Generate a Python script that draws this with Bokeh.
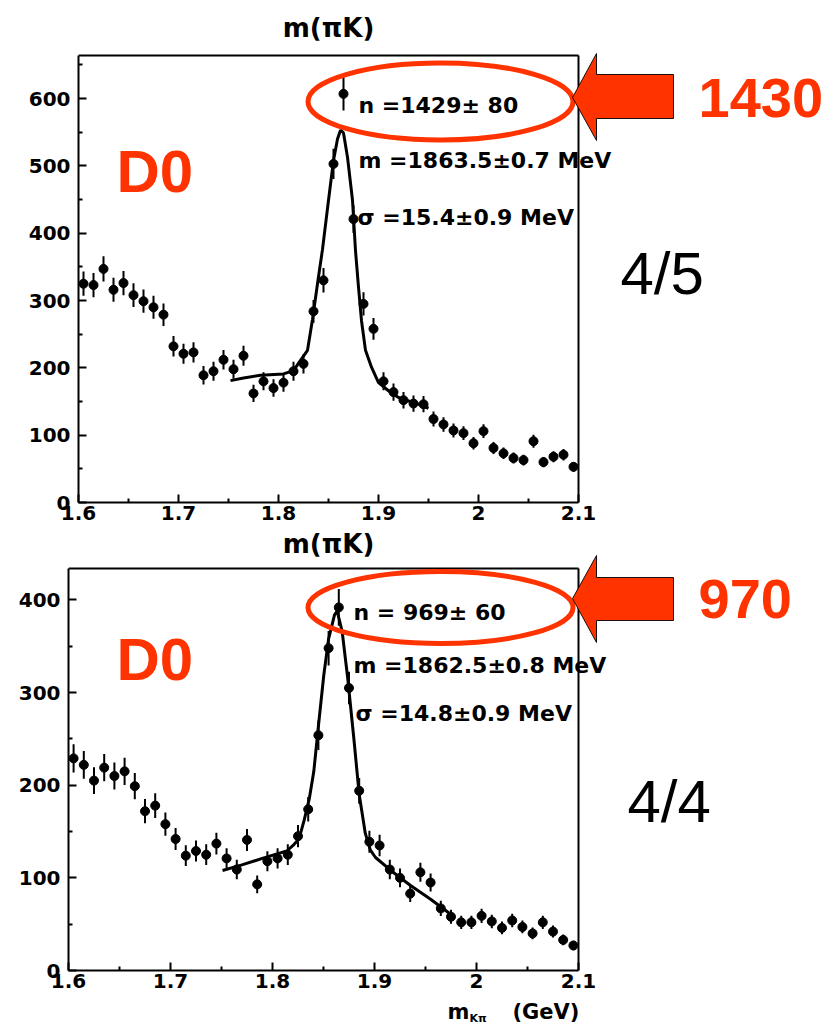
import numpy as np
from bokeh.plotting import figure
from bokeh.layouts import column, row
from bokeh.models import Label, PolyAnnotation, FixedTicker, CustomJSTickFormatter
from bokeh.embed import file_html
from bokeh.resources import INLINE

# ---------------- data ----------------
bin_centers = [1.605, 1.615, 1.625, 1.635, 1.645, 1.655, 1.665, 1.675, 1.685, 1.695,
               1.705, 1.715, 1.725, 1.735, 1.745, 1.755, 1.765, 1.775, 1.785, 1.795,
               1.805, 1.815, 1.825, 1.835, 1.845, 1.855, 1.865, 1.875, 1.885, 1.895,
               1.905, 1.915, 1.925, 1.935, 1.945, 1.955, 1.965, 1.975, 1.985, 1.995,
               2.005, 2.015, 2.025, 2.035, 2.045, 2.055, 2.065, 2.075, 2.085, 2.095]

top_counts = [325, 323, 347, 316, 326, 308, 299, 290, 279, 232,
              221, 223, 189, 195, 212, 198, 218, 162, 180, 170,
              178, 195, 206, 284, 330, 503, 607, 421, 295, 258,
              180, 164, 152, 147, 146, 124, 116, 107, 103, 88,
              106, 81, 73, 66, 63, 91, 60, 68, 71, 53]

bottom_counts = [229, 222, 205, 219, 210, 215, 199, 172, 178, 158,
                 142, 124, 129, 125, 137, 121, 109, 141, 93, 118,
                 121, 125, 145, 174, 254, 348, 392, 305, 194, 139,
                 135, 109, 100, 83, 106, 95, 67, 58, 52, 52,
                 59, 53, 46, 54, 47, 40, 52, 42, 33, 27]

top_fit_x = [1.752, 1.765, 1.782, 1.805, 1.815, 1.822, 1.829, 1.834, 1.839, 1.844,
             1.850, 1.855, 1.859, 1.862, 1.865, 1.869, 1.874, 1.877, 1.880, 1.883,
             1.887, 1.893, 1.900, 1.910, 1.920, 1.930, 1.942, 1.950]
top_fit_y = [181, 185, 189, 191, 196, 211, 226, 272, 325, 376,
             449, 508, 540, 553, 549, 513, 449, 374, 320, 270,
             226, 201, 178, 166, 156, 151, 145, 140]

bottom_fit_x = [1.751, 1.770, 1.790, 1.814, 1.821, 1.826, 1.831, 1.836, 1.8405, 1.8454,
                1.8503, 1.855, 1.8608, 1.8634, 1.8683, 1.8738, 1.8797, 1.885, 1.891, 1.896,
                1.901, 1.916, 1.935, 1.955, 1.978]
bottom_fit_y = [108, 114, 121, 129, 136, 142, 162, 185, 215, 268,
                319, 358, 384, 388, 366, 315, 251, 190, 148, 130,
                122, 108, 92, 77, 58]

x_min, x_max = 1.6, 2.1
x_ticks = [1.6, 1.7, 1.8, 1.9, 2.0, 2.1]
x_tick_labels = ["1.6", "1.7", "1.8", "1.9", "2", "2.1"]
x_minor = [1.65, 1.75, 1.85, 1.95, 2.05]
top_y_ticks = [0, 100, 200, 300, 400, 500, 600]
top_y_minor = [50, 150, 250, 350, 450, 550, 650]
bottom_y_ticks = [0, 100, 200, 300, 400]
bottom_y_minor = [50, 150, 250, 350]

top_stats = ["n =1429\u00b1 80", "m =1863.5\u00b10.7 MeV", "\u03c3 =15.4\u00b10.9 MeV"]
bottom_stats = ["n = 969\u00b1 60", "m =1862.5\u00b10.8 MeV", "\u03c3 =14.8\u00b10.9 MeV"]
top_yield = "1430"
bottom_yield = "970"
top_ratio = "4/5"
bottom_ratio = "4/4"
particle = "D0"
axis_title = "m(\u03c0K)"

# ---------------- layout (page pixels) ----------------
W = 827
RED = "#ff3300"
FONT = "DejaVu Sans"

Y_P1, Y_P2, Y_XL, Y_END = 0, 528, 996, 1028

# plot boxes in page pixels: left, right (x=2.1), top, bottom, y value at box top
T_L, T_R, T_T, T_B, T_YMAX = 78, 578, 55, 502, 664
B_L, B_R, B_T, B_B, B_YMAX = 68, 578, 568, 970, 434


def make_conv(L, R, T, B, ymax):
    def fx(px):
        return x_min + (px - L) / (R - L) * (x_max - x_min)

    def fy(py):
        return (B - py) / (B - T) * ymax
    return fx, fy


def lab(p, x, y, text, size, color="black", font=FONT, style="bold", align="left",
        baseline="middle"):
    p.add_layout(Label(x=x, y=y, text=text, text_font=font, text_font_style=style,
                       text_font_size=size, text_color=color, text_align=align,
                       text_baseline=baseline))


def make_panel(fig_top, fig_bot, L, R, T, B, ymax, yticks, yminor, counts, fitx, fity):
    fx, fy = make_conv(L, R, T, B, ymax)
    # the drawing frame fills everything right of the y axis and above the x axis,
    # so that the notes beside the plot box can be drawn in it
    p = figure(width=W, height=fig_bot - fig_top,
               x_range=(x_min, fx(W)), y_range=(0, fy(fig_top)),
               output_backend="svg", toolbar_location=None,
               min_border_left=L, min_border_right=0,
               min_border_top=0, min_border_bottom=fig_bot - B)
    p.title.visible = False
    p.grid.visible = False
    p.outline_line_color = None
    p.background_fill_color = "white"
    p.border_fill_color = "white"

    for ax in (p.xaxis[0], p.yaxis[0]):
        ax.axis_line_width = 2
        ax.major_tick_line_width = 2
        ax.minor_tick_line_width = 2
        ax.major_tick_in = 8
        ax.major_tick_out = 0
        ax.minor_tick_in = 4
        ax.minor_tick_out = 0
        ax.major_label_text_font = FONT
        ax.major_label_text_font_style = "bold"
        ax.major_label_text_font_size = "20px"
        ax.major_label_text_color = "black"
    p.xaxis.bounds = (x_min, x_max)
    p.xaxis.ticker = FixedTicker(ticks=x_ticks, minor_ticks=x_minor)
    p.xaxis.formatter = CustomJSTickFormatter(
        args=dict(t=x_ticks, l=x_tick_labels),
        code="const i = t.findIndex(v => Math.abs(v - tick) < 1e-6); return i >= 0 ? l[i] : '';")
    p.xaxis.major_label_standoff = 3
    p.yaxis.bounds = (0, ymax)
    p.yaxis.ticker = FixedTicker(ticks=yticks, minor_ticks=yminor)
    p.yaxis.major_label_standoff = 8

    # plot box: top and right edges
    p.segment(x0=[x_min, x_max], y0=[ymax, 0], x1=[x_max, x_max], y1=[ymax, ymax],
              line_color="black", line_width=2)

    x = np.array(bin_centers)
    y = np.array(counts, dtype=float)
    e = np.sqrt(y)
    p.segment(x0=x, y0=y - e, x1=x, y1=y + e, line_color="black", line_width=2)
    p.segment(x0=x - 0.004, y0=y, x1=x + 0.004, y1=y, line_color="black", line_width=2)
    p.scatter(x, y, size=9, color="black")
    p.line(fitx, fity, line_color="black", line_width=3)
    return p, fx, fy


ARROW_X = [572, 596, 596, 673, 673, 596, 596]


def annotate(p, X, Y, ell_y, ell_h, stats, stat_x, stat_y, yld, yld_y,
             ratio, ratio_x, ratio_y, d0_y, arrow_ys):
    p.ellipse(x=[X(440)], y=[Y(ell_y)], width=265, height=ell_h,
              width_units="screen", height_units="screen",
              fill_alpha=0, line_color=RED, line_width=5)
    for s, sx, sy in zip(stats, stat_x, stat_y):
        lab(p, X(sx), Y(sy), s, "22px")
    p.add_layout(PolyAnnotation(xs=[X(v) for v in ARROW_X], ys=[Y(v) for v in arrow_ys],
                                fill_color=RED, fill_alpha=1, line_color="black",
                                line_width=1, line_alpha=0.9))
    lab(p, X(698), Y(yld_y), yld, "56px", color=RED, font="Liberation Sans")
    lab(p, X(ratio_x), Y(ratio_y), ratio, "60px", font="Liberation Sans", style="normal")
    lab(p, X(116), Y(d0_y), particle, "60px", color=RED, font="Liberation Sans")


p1, X1, Y1 = make_panel(Y_P1, Y_P2, T_L, T_R, T_T, T_B, T_YMAX, top_y_ticks,
                        top_y_minor, top_counts, top_fit_x, top_fit_y)
p2, X2, Y2 = make_panel(Y_P2, Y_XL, B_L, B_R, B_T, B_B, B_YMAX, bottom_y_ticks,
                        bottom_y_minor, bottom_counts, bottom_fit_x, bottom_fit_y)

annotate(p1, X1, Y1, 101, 77, top_stats, [358, 358, 357], [105, 160, 217],
         top_yield, 97, top_ratio, 620, 273, 171, [97, 53, 74, 74, 118, 118, 140])
annotate(p2, X2, Y2, 607, 72, bottom_stats, [353, 353, 355], [612, 665, 713],
         bottom_yield, 598, bottom_ratio, 627, 801, 659, [598, 555, 577, 577, 620, 620, 642])

# axis titles
lab(p1, X1(328), Y1(27), axis_title, "26px", align="center")
lab(p2, X2(328), Y2(543), axis_title, "26px", align="center")

# x-axis title of the lower plot, in a strip under it
xl = figure(width=W, height=Y_END - Y_XL, x_range=(0, W), y_range=(Y_END - Y_XL, 0),
            x_axis_type=None, y_axis_type=None, output_backend="svg",
            toolbar_location=None, min_border=0)
xl.title.visible = False
xl.outline_line_color = None
xl.background_fill_color = "white"
xl.border_fill_color = "white"
lab(xl, 447, 1011 - Y_XL, "m", "21px")
lab(xl, 469, 1018 - Y_XL, "K\u03c0", "11px")
lab(xl, 512, 1011 - Y_XL, "(GeV)", "21px")

# each piece in its own row so that the column does not line up their frames
layout = column(row(p1, spacing=0), row(p2, spacing=0), row(xl, spacing=0), spacing=0)
open("out.html", "w").write(file_html(layout, INLINE))
